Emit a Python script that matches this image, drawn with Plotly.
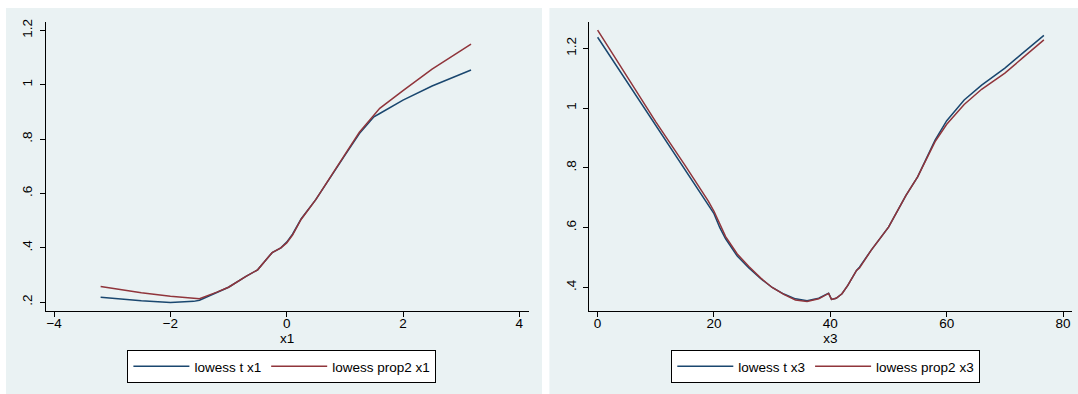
import plotly.graph_objects as go

# ---- data ----
x1 = [-3.2, -2.5, -2.0, -1.6, -1.5, -1.2, -1.0, -0.7, -0.5, -0.3, -0.25, -0.1, 0.0, 0.1, 0.25, 0.5, 0.75, 1.0, 1.25, 1.5, 1.6, 2.0, 2.5, 3.17]
t_x1 = [0.218, 0.205, 0.199, 0.203, 0.207, 0.237, 0.255, 0.295, 0.319, 0.37, 0.382, 0.4, 0.421, 0.45, 0.507, 0.577, 0.66, 0.74, 0.82, 0.882, 0.894, 0.943, 0.995, 1.054]
prop2_x1 = [0.258, 0.235, 0.222, 0.213, 0.213, 0.237, 0.255, 0.295, 0.319, 0.37, 0.382, 0.4, 0.418, 0.447, 0.505, 0.577, 0.662, 0.743, 0.825, 0.887, 0.913, 0.978, 1.057, 1.149]

x3 = [0, 5, 10, 15, 19, 20, 21, 22, 24, 26, 28, 30, 32, 34, 36, 38, 39.7, 40.2, 41, 42, 43, 44.5, 45, 47, 50, 53, 55, 58, 60, 63, 66, 70, 73, 76.7]
t_x3 = [1.237, 1.09, 0.943, 0.798, 0.68, 0.647, 0.6, 0.563, 0.505, 0.465, 0.43, 0.4, 0.378, 0.362, 0.356, 0.364, 0.381, 0.36, 0.364, 0.379, 0.407, 0.457, 0.468, 0.524, 0.602, 0.708, 0.77, 0.893, 0.958, 1.027, 1.077, 1.134, 1.183, 1.243]
prop2_x3 = [1.261, 1.108, 0.954, 0.809, 0.69, 0.655, 0.61, 0.57, 0.512, 0.47, 0.432, 0.4, 0.377, 0.358, 0.353, 0.362, 0.38, 0.36, 0.364, 0.379, 0.407, 0.457, 0.465, 0.524, 0.602, 0.708, 0.77, 0.888, 0.946, 1.012, 1.063, 1.117, 1.167, 1.228]

x1_ticks = [-4, -2, 0, 2, 4]
x1_labels = ["\u22124", "\u22122", "0", "2", "4"]
y1_ticks = [0.2, 0.4, 0.6, 0.8, 1.0, 1.2]
y1_labels = [".2", ".4", ".6", ".8", "1", "1.2"]
x3_ticks = [0, 20, 40, 60, 80]
x3_labels = ["0", "20", "40", "60", "80"]
y3_ticks = [0.4, 0.6, 0.8, 1.0, 1.2]
y3_labels = [".4", ".6", ".8", "1", "1.2"]

# ---- style ----
W, H = 1078, 394
NAVY = "#1a476f"
MAROON = "#90353b"
BG = "#eaf2f3"
GRID = "#eaf2f3"
FONT = "Liberation Sans, Arial, sans-serif"
FS = 13.5

def px(x):
    return x / W

def py(y):
    return 1 - y / H

fig = go.Figure()
fig.add_trace(go.Scatter(x=x1, y=t_x1, mode="lines", name="lowess t x1",
                         line=dict(color=NAVY, width=1.5), xaxis="x", yaxis="y", legend="legend"))
fig.add_trace(go.Scatter(x=x1, y=prop2_x1, mode="lines", name="lowess prop2 x1",
                         line=dict(color=MAROON, width=1.5), xaxis="x", yaxis="y", legend="legend"))
fig.add_trace(go.Scatter(x=x3, y=t_x3, mode="lines", name="lowess t x3",
                         line=dict(color=NAVY, width=1.5), xaxis="x2", yaxis="y2", legend="legend2"))
fig.add_trace(go.Scatter(x=x3, y=prop2_x3, mode="lines", name="lowess prop2 x3",
                         line=dict(color=MAROON, width=1.5), xaxis="x2", yaxis="y2", legend="legend2"))

axis_common = dict(showline=True, linecolor="black", linewidth=1, ticks="outside",
                   ticklen=5, tickwidth=1, tickcolor="black", zeroline=False,
                   tickfont=dict(family=FONT, size=FS, color="black"), automargin=False)

legend_common = dict(xanchor="left", yanchor="top", orientation="h", bgcolor="white",
                     bordercolor="black", borderwidth=1,
                     font=dict(family=FONT, size=FS, color="black"), itemwidth=56)

fig.update_layout(
    width=W, height=H,
    margin=dict(l=0, r=0, t=0, b=0),
    paper_bgcolor="white", plot_bgcolor="white",
    font=dict(family=FONT, size=FS, color="black"),
    xaxis=dict(domain=[px(45.8), px(528.6)], range=[-4.143, 4.16], anchor="y",
               tickvals=x1_ticks, ticktext=x1_labels, showgrid=False, ticklabelstandoff=-5,
               title=dict(text="x1", font=dict(family=FONT, size=FS), standoff=0), **axis_common),
    yaxis=dict(domain=[py(310.5), py(21.7)], range=[0.1694, 1.2317], anchor="x",
               tickvals=y1_ticks, ticktext=y1_labels, tickangle=-90, ticklabelstandoff=2,
               showgrid=True, gridcolor=GRID, gridwidth=1, **axis_common),
    xaxis2=dict(domain=[px(589), px(1071.7)], range=[-1.48, 81.48], anchor="y2",
                tickvals=x3_ticks, ticktext=x3_labels, showgrid=False, ticklabelstandoff=-5,
                title=dict(text="x3", font=dict(family=FONT, size=FS), standoff=0), **axis_common),
    yaxis2=dict(domain=[py(310.5), py(21.7)], range=[0.323, 1.289], anchor="x2",
                tickvals=y3_ticks, ticktext=y3_labels, tickangle=-90, ticklabelstandoff=2,
                showgrid=True, gridcolor=GRID, gridwidth=1, **axis_common),
    legend=dict(x=px(127.4), y=py(350), **legend_common),
    legend2=dict(x=px(671.3), y=py(350), **legend_common),
    shapes=[
        dict(type="rect", xref="paper", yref="paper", x0=px(6), x1=px(542), y0=0, y1=py(8),
             fillcolor=BG, line=dict(width=0), layer="below"),
        dict(type="rect", xref="paper", yref="paper", x0=px(549.4), x1=1, y0=0, y1=py(8),
             fillcolor=BG, line=dict(width=0), layer="below"),
    ],
    showlegend=True,
)

fig.write_html("out.html", config={"displayModeBar": False},
               post_script="document.body.style.margin='0';document.body.style.overflow='hidden';")
